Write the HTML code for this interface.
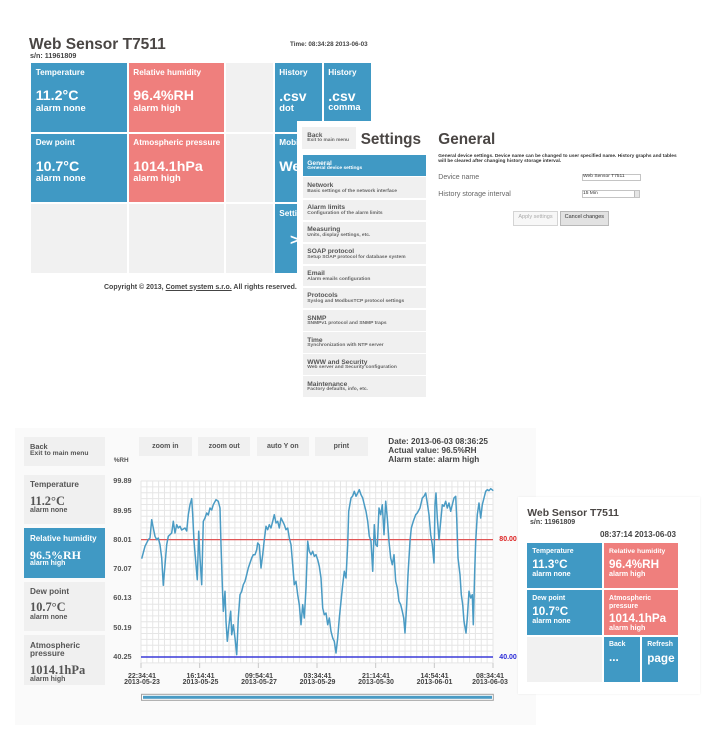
<!DOCTYPE html>
<html><head><meta charset="utf-8">
<style>
*{margin:0;padding:0;box-sizing:border-box}
body{width:708px;height:756px;overflow:hidden;background:#fff;position:relative;font-family:"Liberation Sans",Arial,sans-serif;font-weight:bold;color:#444}
.a{position:absolute;white-space:nowrap;line-height:1}
.b{position:absolute;background:#4099c4}
.r{position:absolute;background:#ef7f7d}
.g{position:absolute;background:#f1f1f1}
.w{color:#fff}
.s{font-family:"Liberation Serif",serif}
.mi{position:absolute;left:303px;width:123px;height:20.6px;background:#f0f0f0}
.mi .t{position:absolute;left:4.3px;top:5.6px;font-size:6.6px;line-height:1;white-space:nowrap;color:#555}
.mi .u{position:absolute;left:4.3px;top:12.2px;font-size:4.9px;line-height:1;white-space:nowrap;color:#666}
.mi.sel{background:#4099c4}
.mi.sel .t,.mi.sel .u{color:#fff}
.btn{position:absolute;top:437.3px;height:18.4px;background:#f0f0f0;font-size:7px;color:#555;display:flex;align-items:center;justify-content:center;line-height:1}
.yl{position:absolute;left:113.3px;font-size:7.3px;line-height:1;color:#555}
.xl{position:absolute;top:673.8px;font-size:7px;line-height:5.9px;color:#444;text-align:center;transform:translateX(-50%);white-space:nowrap}
</style></head><body>

<!-- ===== TOP: main page ===== -->
<div class="a" style="left:29px;top:37.4px;font-size:15.5px;color:#4a4644">Web Sensor T7511</div>
<div class="a" style="left:30px;top:52.2px;font-size:7.2px;color:#444">s/n: 11961809</div>
<div class="a" style="left:290px;top:41.9px;font-size:6.3px;color:#444">Time: 08:34:28 2013-06-03</div>

<div class="b" style="left:31px;top:63px;width:96px;height:69px"></div>
<div class="r" style="left:129px;top:63px;width:95px;height:69px"></div>
<div class="g" style="left:226px;top:63px;width:47px;height:69px"></div>
<div class="b" style="left:275px;top:63px;width:47px;height:69px"></div>
<div class="b" style="left:324px;top:63px;width:47px;height:69px"></div>

<div class="b" style="left:31px;top:134px;width:96px;height:68px"></div>
<div class="r" style="left:129px;top:134px;width:95px;height:68px"></div>
<div class="g" style="left:226px;top:134px;width:47px;height:68px"></div>
<div class="b" style="left:275px;top:134px;width:47px;height:68px"></div>
<div class="b" style="left:324px;top:134px;width:47px;height:68px"></div>

<div class="g" style="left:31px;top:204px;width:96px;height:69px"></div>
<div class="g" style="left:129px;top:204px;width:95px;height:69px"></div>
<div class="g" style="left:226px;top:204px;width:47px;height:69px"></div>
<div class="b" style="left:275px;top:204px;width:47px;height:69px"></div>
<div class="b" style="left:324px;top:204px;width:47px;height:69px"></div>

<div class="a w" style="left:35.7px;top:69.2px;font-size:8.2px">Temperature</div>
<div class="a w" style="left:35.7px;top:89.2px;font-size:14.2px">11.2°C</div>
<div class="a w" style="left:35.7px;top:103.1px;font-size:9.4px">alarm none</div>

<div class="a w" style="left:133.3px;top:69.2px;font-size:8.2px">Relative humidity</div>
<div class="a w" style="left:133.3px;top:89.2px;font-size:14.2px">96.4%RH</div>
<div class="a w" style="left:133.3px;top:103.1px;font-size:9.4px">alarm high</div>

<div class="a w" style="left:279.3px;top:69.2px;font-size:8.2px">History</div>
<div class="a w" style="left:279.3px;top:89.2px;font-size:14px">.csv</div>
<div class="a w" style="left:279.3px;top:103.1px;font-size:9.4px">dot</div>

<div class="a w" style="left:328.3px;top:69.2px;font-size:8.2px">History</div>
<div class="a w" style="left:328.3px;top:89.2px;font-size:14px">.csv</div>
<div class="a w" style="left:328.3px;top:103.1px;font-size:9.2px">comma</div>

<div class="a w" style="left:35.7px;top:139.2px;font-size:8.2px">Dew point</div>
<div class="a w" style="left:35.7px;top:159.6px;font-size:14.2px">10.7°C</div>
<div class="a w" style="left:35.7px;top:173.1px;font-size:9.4px">alarm none</div>

<div class="a w" style="left:133.3px;top:139.2px;font-size:8.2px">Atmospheric pressure</div>
<div class="a w" style="left:133.3px;top:159.6px;font-size:14.2px">1014.1hPa</div>
<div class="a w" style="left:133.3px;top:173.1px;font-size:9.4px">alarm high</div>

<div class="a w" style="left:279.3px;top:139.2px;font-size:8.2px">Mobile</div>
<div class="a w" style="left:279.3px;top:159.6px;font-size:14.2px">Web</div>
<div class="a w" style="left:279.3px;top:209.9px;font-size:8.2px">Settings</div>
<div class="a w" style="left:290px;top:233px;font-size:16px">&gt;</div>

<div class="a" style="left:104px;top:283.8px;font-size:7px;color:#444">Copyright © 2013, <span style="text-decoration:underline">Comet system s.r.o.</span> All rights reserved.</div>

<!-- ===== Settings panel ===== -->
<div style="position:absolute;left:297px;top:121px;width:403px;height:282px;background:#fff"></div>
<div class="g" style="left:302px;top:127px;width:54px;height:22px;background:#f0f0f0"></div>
<div class="a" style="left:307.3px;top:132.6px;font-size:6.3px;color:#555">Back</div>
<div class="a" style="left:307.3px;top:139.3px;font-size:4.85px;color:#666">Exit to main menu</div>
<div class="a" style="left:360.7px;top:131.7px;font-size:15.3px;color:#4a4644">Settings</div>
<div class="a" style="left:438.3px;top:131.7px;font-size:15.3px;color:#4a4644">General</div>

<div class="mi sel" style="top:155.3px"><div class="t">General</div><div class="u">General device settings</div></div>
<div class="mi" style="top:177.4px"><div class="t">Network</div><div class="u">Basic settings of the network interface</div></div>
<div class="mi" style="top:199.5px"><div class="t">Alarm limits</div><div class="u">Configuration of the alarm limits</div></div>
<div class="mi" style="top:221.6px"><div class="t">Measuring</div><div class="u">Units, display settings, etc.</div></div>
<div class="mi" style="top:243.7px"><div class="t">SOAP protocol</div><div class="u">Setup SOAP protocol for database system</div></div>
<div class="mi" style="top:265.8px"><div class="t">Email</div><div class="u">Alarm emails configuration</div></div>
<div class="mi" style="top:287.9px"><div class="t">Protocols</div><div class="u">Syslog and ModbusTCP protocol settings</div></div>
<div class="mi" style="top:310px"><div class="t">SNMP</div><div class="u">SNMPv1 protocol and SNMP traps</div></div>
<div class="mi" style="top:332.1px"><div class="t">Time</div><div class="u">Synchronization with NTP server</div></div>
<div class="mi" style="top:354.2px"><div class="t">WWW and Security</div><div class="u">Web server and Security configuration</div></div>
<div class="mi" style="top:376.3px"><div class="t">Maintenance</div><div class="u">Factory defaults, info, etc.</div></div>

<div class="a" style="left:438.3px;top:155.3px;font-size:4.8px;color:#333">General device settings. Device name can be changed to user specified name. History graphs and tables</div>
<div class="a" style="left:438.3px;top:160.3px;font-size:4.8px;color:#333">will be cleared after changing history storage interval.</div>
<div class="a" style="left:438.3px;top:174.2px;font-size:7px;font-weight:normal;color:#666">Device name</div>
<div style="position:absolute;left:581.7px;top:174px;width:59px;height:7.4px;border:1px solid #c4c4c4;background:#fff"></div>
<div class="a" style="left:583px;top:175.3px;font-size:4.9px;font-weight:normal;color:#333">Web Sensor T7511</div>
<div class="a" style="left:438.3px;top:190.7px;font-size:7.1px;font-weight:normal;color:#666">History storage interval</div>
<div style="position:absolute;left:581.7px;top:190.3px;width:58.3px;height:7.7px;border:1px solid #c4c4c4;background:#fff"></div>
<div style="position:absolute;left:634px;top:191.3px;width:5px;height:5.7px;background:#e6e6e6;border-left:1px solid #bbb"></div>
<div class="a" style="left:583px;top:191.7px;font-size:4.9px;font-weight:normal;color:#333">15 Min</div>
<div style="position:absolute;left:513.3px;top:210.7px;width:44.4px;height:15px;background:#f7f7f7;border:1px solid #d4d4d4;font-size:5.5px;font-weight:normal;color:#aaa;display:flex;align-items:center;justify-content:center;line-height:1">Apply settings</div>
<div style="position:absolute;left:560px;top:210.7px;width:48.7px;height:15px;background:#e2e2e2;border:1px solid #b8b8b8;font-size:5.5px;font-weight:normal;color:#333;display:flex;align-items:center;justify-content:center;line-height:1">Cancel changes</div>

<!-- ===== BOTTOM: chart page ===== -->
<div style="position:absolute;left:15px;top:428px;width:521px;height:297px;background:#fafafa"></div>

<svg style="position:absolute;left:0;top:0" width="708" height="756" viewBox="0 0 708 756">
<rect x="141" y="481" width="352" height="182" fill="#fff"/>
<path fill="none" stroke="#e6e6e6" stroke-width="1" d="M141 481V663M146.87 481V663M152.73 481V663M158.6 481V663M164.47 481V663M170.33 481V663M176.2 481V663M182.07 481V663M187.93 481V663M193.8 481V663M199.67 481V663M205.53 481V663M211.4 481V663M217.27 481V663M223.13 481V663M229 481V663M234.87 481V663M240.73 481V663M246.6 481V663M252.47 481V663M258.33 481V663M264.2 481V663M270.07 481V663M275.93 481V663M281.8 481V663M287.67 481V663M293.53 481V663M299.4 481V663M305.27 481V663M311.13 481V663M317 481V663M322.87 481V663M328.73 481V663M334.6 481V663M340.47 481V663M346.33 481V663M352.2 481V663M358.07 481V663M363.93 481V663M369.8 481V663M375.67 481V663M381.53 481V663M387.4 481V663M393.27 481V663M399.13 481V663M405 481V663M410.87 481V663M416.73 481V663M422.6 481V663M428.47 481V663M434.33 481V663M440.2 481V663M446.07 481V663M451.93 481V663M457.8 481V663M463.67 481V663M469.53 481V663M475.4 481V663M481.27 481V663M487.13 481V663M493 481V663
M141 481H493M141 486.87H493M141 492.73H493M141 498.6H493M141 504.47H493M141 510.33H493M141 516.2H493M141 522.07H493M141 527.93H493M141 533.8H493M141 539.67H493M141 545.53H493M141 551.4H493M141 557.27H493M141 563.13H493M141 569H493M141 574.87H493M141 580.73H493M141 586.6H493M141 592.47H493M141 598.33H493M141 604.2H493M141 610.07H493M141 615.93H493M141 621.8H493M141 627.67H493M141 633.53H493M141 639.4H493M141 645.27H493M141 651.13H493M141 657H493M141 662.87H493"/>
<path fill="none" stroke="#c8c8c8" stroke-width="1" d="M141 663V668M199.67 663V668M258.33 663V668M317 663V668M375.67 663V668M434.33 663V668M493 663V668"/>
<line x1="141" y1="539.6" x2="493" y2="539.6" stroke="#e05555" stroke-width="1.2"/>
<line x1="141" y1="657" x2="493" y2="657" stroke="#3a3ad8" stroke-width="1.4"/>
<polyline fill="none" stroke="#4a9bc4" stroke-width="1.5" stroke-linejoin="round" points="141.7,558.7 145,546.3 148.3,539.7 150,538 151.7,519.7 153.3,528 155,536.3 156.7,539.7 158.3,538 160,544.7 161.7,558 163.3,585.3 165,564.7 166.7,544.7 168.3,536.3 171.7,533 173.3,521.3 175,533 176.7,524.7 178.3,528 180,526.3 181.7,530 185,528 186.7,531 188.3,514.7 190,504.7 191.7,498.7 192.7,514.7 194,541.3 196,564.7 197.3,579.7 198.7,531.3 200,558 201.7,584.7 203.3,521.3 205,518 206.7,513 208.3,515 210,508 211.7,510 213.3,504.7 216,499.7 218.3,501.3 220,508 221,544.7 222.3,584.7 223.3,611.3 225,591.3 226,621.3 227.3,641.3 229,624.7 230.7,611.3 231.7,634.7 233.3,624.7 235,638 236.7,654.7 238.3,618 240,594.7 241.7,591.3 243.3,584.7 245,581.3 246.7,574.7 248.3,568 250,563 251.7,558 253.3,554.7 255,554.7 256.7,549.7 257.7,543 259.3,545 261,568 262.7,554.7 264.3,539.7 266,526.3 267.7,529.7 269.3,524.7 271,528 272.7,521.3 274.3,514.7 276,523 277.7,521.3 279.3,528 281,518 282.7,521.3 284.3,524.7 286,529.7 287.7,528 289.3,538 291,544.7 292.7,564.7 294.3,584.7 296,581.3 297.7,594.7 299.3,604.7 301,624.7 302.7,604.7 304.3,618 306,588 307.7,541.3 309.3,551.3 311,554.7 312.7,551.3 314.3,556.3 316,554.7 317.7,559.7 319.3,566.3 321,578 322.7,608 324.3,614.7 326,613 327.7,624.7 329.3,618 331,631.3 332.7,638 334.3,641.3 336,653 337.7,638 339.3,618 341,601.3 342.7,584.7 344.3,571.3 346,578 347.7,544.7 348.7,511.3 351,498 352.7,496 354.3,491.3 356,496.3 357.7,493 359.3,489.7 361,494.7 362.7,498 364.3,504.7 366,511.3 367.7,521.3 369.3,536.3 371,541.3 372.7,571.3 374.3,524.7 375.7,544.7 377.3,546.3 379,508 380.7,514.7 382.3,504.7 384,534.7 385.7,501.3 387.3,518 389,541.3 390.7,558 392.3,564.7 394,554.7 395.7,581.3 397.3,588 399,601.3 400.7,604.7 402.3,611.3 403.7,618 405,633 406.7,604.7 408,574.7 410,541.3 411.3,528 413.3,521.3 415.7,514.7 417.3,513 420,508 422.3,498 424,496.3 425.7,493 427.3,503 429,514.7 430.7,534.7 432.3,544.7 434,563 435,504.7 436,493 437.3,518 439,539.7 440.7,521.3 442.3,504.7 444,506.3 445.7,501.3 447.3,508 449,503 450.7,511.3 452.3,504.7 454,498 455.7,496.3 456.7,518 458,558 460,574.7 461.3,594.7 462.7,604.7 464,621.3 466,633 467.3,618 469,591.3 470.7,598 472.3,594.7 473.3,624.7 474.7,571.3 475.7,541.3 477.3,514.7 479,503 480.7,518 482.3,504.7 484,498 485.7,491.3 487.3,489.7 489,490.7 490.7,488.7 493.3,490.7"/>
<rect x="141.5" y="694.3" width="351.8" height="6" fill="#fff" stroke="#a0a0a0" stroke-width="1"/>
<rect x="143" y="695.8" width="349" height="3" fill="#4a9bc4"/>
</svg>

<!-- left tiles -->
<div class="g" style="left:24px;top:437px;width:81px;height:29px;background:#f0f0f0"></div>
<div class="a" style="left:30px;top:443.3px;font-size:7.4px;color:#555">Back</div>
<div class="a" style="left:30px;top:450.5px;font-size:6.8px;color:#555">Exit to main menu</div>

<div class="g" style="left:24px;top:475px;width:81px;height:49.3px;background:#f0f0f0"></div>
<div class="a" style="left:30px;top:481.2px;font-size:8.2px;color:#555">Temperature</div>
<div class="a s" style="left:30px;top:494.8px;font-size:12.4px;color:#555">11.2°C</div>
<div class="a" style="left:30px;top:506.8px;font-size:7px;color:#555">alarm none</div>

<div class="b" style="left:24px;top:528px;width:81px;height:49.7px"></div>
<div class="a w" style="left:30px;top:534.6px;font-size:8.05px">Relative humidity</div>
<div class="a s w" style="left:30px;top:548.6px;font-size:12px">96.5%RH</div>
<div class="a w" style="left:30px;top:560.4px;font-size:7px">alarm high</div>

<div class="g" style="left:24px;top:581.7px;width:81px;height:49.3px;background:#f0f0f0"></div>
<div class="a" style="left:30px;top:588.2px;font-size:8.2px;color:#555">Dew point</div>
<div class="a s" style="left:30px;top:601.4px;font-size:12.4px;color:#555">10.7°C</div>
<div class="a" style="left:30px;top:613.7px;font-size:7px;color:#555">alarm none</div>

<div class="g" style="left:24px;top:635px;width:81px;height:50px;background:#f0f0f0"></div>
<div class="a" style="left:30px;top:641.6px;font-size:8.2px;color:#555">Atmospheric</div>
<div class="a" style="left:30px;top:650.2px;font-size:8.2px;color:#555">pressure</div>
<div class="a s" style="left:30px;top:663.8px;font-size:12.5px;color:#555">1014.1hPa</div>
<div class="a" style="left:30px;top:676px;font-size:7px;color:#555">alarm high</div>

<!-- chart buttons -->
<div class="btn" style="left:139px;width:52.7px">zoom in</div>
<div class="btn" style="left:198px;width:52.3px">zoom out</div>
<div class="btn" style="left:256.7px;width:52.3px">auto Y on</div>
<div class="btn" style="left:315px;width:52.7px">print</div>

<div class="a" style="left:388.3px;top:438.2px;font-size:8.2px;color:#444">Date: 2013-06-03 08:36:25</div>
<div class="a" style="left:388.3px;top:446.9px;font-size:8.2px;color:#444">Actual value: 96.5%RH</div>
<div class="a" style="left:388.3px;top:455.6px;font-size:8.2px;color:#444">Alarm state: alarm high</div>

<div class="a" style="left:113.7px;top:457.5px;font-size:6.4px;color:#555">%RH</div>
<div class="yl" style="top:477.3px">99.89</div>
<div class="yl" style="top:506.6px">89.95</div>
<div class="yl" style="top:536px">80.01</div>
<div class="yl" style="top:565px">70.07</div>
<div class="yl" style="top:594.3px">60.13</div>
<div class="yl" style="top:624px">50.19</div>
<div class="yl" style="top:653.3px">40.25</div>

<div class="a" style="left:499.3px;top:535.9px;font-size:7px;color:#dd2222">80.00</div>
<div class="a" style="left:499.3px;top:653.5px;font-size:7px;color:#2a2ad8">40.00</div>

<div class="xl" style="left:142px">22:34:41<br>2013-05-23</div>
<div class="xl" style="left:200.5px">16:14:41<br>2013-05-25</div>
<div class="xl" style="left:259px">09:54:41<br>2013-05-27</div>
<div class="xl" style="left:317.5px">03:34:41<br>2013-05-29</div>
<div class="xl" style="left:376px">21:14:41<br>2013-05-30</div>
<div class="xl" style="left:434.5px">14:54:41<br>2013-06-01</div>
<div class="xl" style="left:490px">08:34:41<br>2013-06-03</div>

<!-- ===== Mobile panel ===== -->
<div style="position:absolute;left:518px;top:497px;width:182px;height:197px;background:#fff;box-shadow:0 0 2px rgba(0,0,0,0.08)"></div>
<div class="a" style="left:527.3px;top:508.7px;font-size:10.4px;color:#4a4644">Web Sensor T7511</div>
<div class="a" style="left:530px;top:518.5px;font-size:7px;color:#444">s/n: 11961809</div>
<div class="a" style="left:600px;top:530.7px;font-size:8.1px;color:#444">08:37:14 2013-06-03</div>

<div class="b" style="left:527.3px;top:543.3px;width:74.4px;height:44.4px"></div>
<div class="r" style="left:604px;top:543.3px;width:74.3px;height:44.4px"></div>
<div class="b" style="left:527.3px;top:590px;width:74.4px;height:45px"></div>
<div class="r" style="left:604px;top:590px;width:74.3px;height:45px"></div>
<div class="g" style="left:527.3px;top:637px;width:74.4px;height:44.7px"></div>
<div class="b" style="left:604px;top:637px;width:36px;height:44.7px"></div>
<div class="b" style="left:642px;top:637px;width:36.3px;height:44.7px"></div>

<div class="a w" style="left:532.3px;top:548.9px;font-size:6.9px">Temperature</div>
<div class="a w" style="left:532.3px;top:559.2px;font-size:11.7px">11.3°C</div>
<div class="a w" style="left:532.3px;top:570.4px;font-size:7.2px">alarm none</div>

<div class="a w" style="left:609px;top:548.9px;font-size:6.8px">Relative humidity</div>
<div class="a w" style="left:609px;top:559.2px;font-size:11.7px">96.4%RH</div>
<div class="a w" style="left:609px;top:570.4px;font-size:7.2px">alarm high</div>

<div class="a w" style="left:532.3px;top:595.6px;font-size:6.9px">Dew point</div>
<div class="a w" style="left:532.3px;top:605.9px;font-size:11.7px">10.7°C</div>
<div class="a w" style="left:532.3px;top:617.1px;font-size:7.2px">alarm none</div>

<div class="a w" style="left:609px;top:595.6px;font-size:6.9px">Atmospheric</div>
<div class="a w" style="left:609px;top:603.6px;font-size:6.9px">pressure</div>
<div class="a w" style="left:609px;top:613.2px;font-size:11.7px">1014.1hPa</div>
<div class="a w" style="left:609px;top:624.4px;font-size:7.2px">alarm high</div>

<div class="a w" style="left:609px;top:642.3px;font-size:6.9px">Back</div>
<div class="a w" style="left:609px;top:652px;font-size:11.7px">...</div>
<div class="a w" style="left:647.3px;top:642.3px;font-size:6.9px">Refresh</div>
<div class="a w" style="left:647.3px;top:652.5px;font-size:11.7px">page</div>

</body></html>
